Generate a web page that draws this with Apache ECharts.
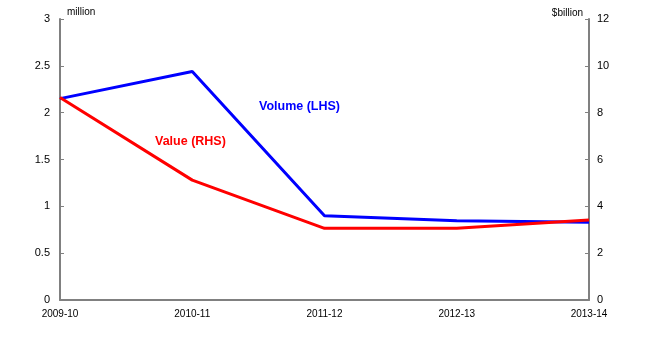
<!DOCTYPE html>
<html><head><meta charset="utf-8">
<script src="https://cdn.jsdelivr.net/npm/echarts@6/dist/echarts.min.js"></script>
<style>html,body{margin:0;padding:0;background:#fff}#c{width:664px;height:347px}</style>
</head><body><div id="c"></div>
<script>
const categories = ['2009-10','2010-11','2011-12','2012-13','2013-14'];
const volumeLHS = [2.15, 2.44, 0.9, 0.845, 0.83];
const valueRHS = [8.65, 5.12, 3.06, 3.06, 3.42];
const leftTicks = [0, 0.5, 1, 1.5, 2, 2.5, 3];
const rightTicks = [0, 2, 4, 6, 8, 10, 12];

const font = 'Liberation Sans, Arial, sans-serif';
const axisGrey = '#808080';
const chart = echarts.init(document.getElementById('c'));
chart.setOption({
  animation: false,
  grid: {left: 60, right: 75, top: 19, bottom: 47},
  xAxis: {
    type: 'category', data: categories, boundaryGap: false,
    axisLine: {lineStyle: {color: axisGrey, width: 2}},
    axisTick: {show: false},
    axisLabel: {color: '#000', fontFamily: font, fontSize: 10, margin: 9}
  },
  yAxis: [{
    type: 'value', min: 0, max: 3, interval: 0.5,
    name: 'million', nameLocation: 'end', nameGap: 2,
    nameTextStyle: {color: '#000', fontFamily: font, fontSize: 10, align: 'left', padding: [0,0,0,7]},
    axisLine: {show: true, lineStyle: {color: axisGrey, width: 2}},
    axisTick: {show: true, inside: true, length: 4, lineStyle: {color: axisGrey, width: 1}},
    splitLine: {show: false},
    axisLabel: {color: '#000', fontFamily: font, fontSize: 11, margin: 10,
      formatter: v => leftTicks.includes(v) ? String(v) : ''}
  }, {
    type: 'value', min: 0, max: 12, interval: 2, position: 'right',
    name: '$billion', nameLocation: 'end', nameGap: 1,
    nameTextStyle: {color: '#000', fontFamily: font, fontSize: 10, align: 'right', padding: [0,6,0,0]},
    axisLine: {show: true, lineStyle: {color: axisGrey, width: 2}},
    axisTick: {show: true, inside: true, length: 4, lineStyle: {color: axisGrey, width: 1}},
    splitLine: {show: false},
    axisLabel: {color: '#000', fontFamily: font, fontSize: 11, margin: 8,
      formatter: v => rightTicks.includes(v) ? String(v) : ''}
  }],
  series: [{
    name: 'Volume (LHS)', type: 'line', yAxisIndex: 0, data: volumeLHS,
    symbol: 'none', lineStyle: {color: '#0000ff', width: 3}, z: 2
  }, {
    name: 'Value (RHS)', type: 'line', yAxisIndex: 1, data: valueRHS,
    symbol: 'none', lineStyle: {color: '#ff0000', width: 3}, z: 3
  }],
  graphic: [{
    type: 'text', left: 259, top: 100,
    style: {text: 'Volume (LHS)', fill: '#0000ff', font: 'bold 12.5px ' + font}
  }, {
    type: 'text', left: 155, top: 135,
    style: {text: 'Value (RHS)', fill: '#ff0000', font: 'bold 12.5px ' + font}
  }]
});
</script></body></html>
